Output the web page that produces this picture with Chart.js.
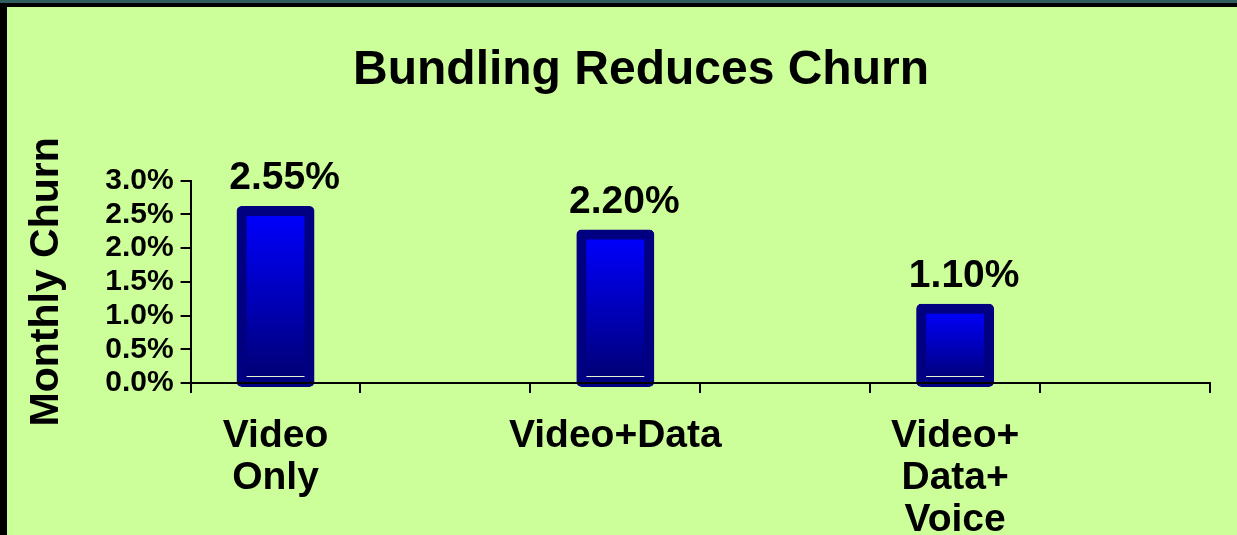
<!DOCTYPE html>
<html>
<head>
<meta charset="utf-8">
<script src="https://cdn.jsdelivr.net/npm/chart.js@4.4.0/dist/chart.umd.min.js"></script>
<style>
    html, body { margin: 0; padding: 0; overflow: hidden; }
    #frame {
        position: absolute; left: 0; top: 0;
        width: 1237px; height: 535px;
        box-sizing: border-box;
        border-top: 3px solid #2f5e5e;
        background: #000;
    }
    #panel {
        position: absolute; left: 7px; top: 4px; right: 0; bottom: 0;
        background: #ccff99;
    }
    #wrap {
        position: absolute; left: 7px; top: 7px;
        width: 1230px; height: 556px;
    }
</style>
</head>
<body>
<div id="frame"><div id="panel"></div></div>
<div id="wrap"><canvas id="churnChart"></canvas></div>
<script>
// Monthly churn by bundle, empty slots keep the gaps between bars
const categories = [['Video', 'Only'], '', 'Video+Data', '', ['Video+', 'Data+', 'Voice'], ''];
const churnPct = [2.55, null, 2.20, null, 1.10, null];
const yMin = 0;
const yMax = 3.0;
const yStep = 0.5;

const FONT = "'Liberation Sans', Arial, sans-serif";
Chart.defaults.font.family = FONT;
Chart.defaults.color = '#000';

// vertical fill for each bar, bright blue at the top fading to navy
function barGradient(context) {
    const chart = context.chart;
    if (!chart.chartArea || !context.parsed || context.parsed.y == null) return '#0000ff';
    const y = chart.scales.y;
    const top = y.getPixelForValue(context.parsed.y);
    const bottom = y.getPixelForValue(0);
    const g = chart.ctx.createLinearGradient(0, top, 0, bottom);
    g.addColorStop(0, '#0000ff');
    g.addColorStop(0.55, '#0000b4');
    g.addColorStop(1, '#000070');
    return g;
}

// value labels above the bars plus the thin highlight near each bar's foot
const barLabels = {
    id: 'barLabels',
    afterDatasetsDraw(chart) {
        const ctx = chart.ctx;
        const meta = chart.getDatasetMeta(0);
        ctx.save();
        meta.data.forEach((bar, i) => {
            const v = churnPct[i];
            if (v == null) return;
            ctx.strokeStyle = '#e4f0d0';
            ctx.lineWidth = 1;
            ctx.beginPath();
            ctx.moveTo(bar.x - bar.width / 2 + 5, Math.round(bar.base) - 5.5);
            ctx.lineTo(bar.x + bar.width / 2 - 5, Math.round(bar.base) - 5.5);
            ctx.stroke();

            ctx.font = 'bold 39px ' + FONT;
            ctx.fillStyle = '#000';
            ctx.textAlign = 'center';
            ctx.textBaseline = 'alphabetic';
            ctx.fillText(v.toFixed(2) + '%', bar.x + 9, bar.y - 22);
        });
        ctx.restore();
    }
};

const chart = new Chart(document.getElementById('churnChart'), {
    type: 'bar',
    data: {
        labels: categories,
        datasets: [{
            data: churnPct,
            backgroundColor: barGradient,
            borderColor: '#000080',
            borderWidth: 10,
            borderRadius: 5,
            borderSkipped: false,
            inflateAmount: 5,
            barPercentage: 0.4,
            categoryPercentage: 1,
            clip: false
        }]
    },
    options: {
        responsive: true,
        maintainAspectRatio: false,
        animation: false,
        layout: { padding: { left: 65, right: 27, top: 0, bottom: 0 } },
        plugins: {
            legend: { display: false },
            tooltip: { enabled: false },
            title: {
                display: true,
                text: 'Bundling Reduces Churn',
                color: '#000',
                font: { size: 48, weight: 'bold', lineHeight: 1.2 },
                padding: { top: 35, bottom: 81 }
            }
        },
        scales: {
            x: {
                grid: {
                    display: true,
                    drawOnChartArea: false,
                    offset: true,
                    color: '#000',
                    lineWidth: 2,
                    tickLength: 10
                },
                border: { color: '#000', width: 2, z: 1 },
                ticks: {
                    color: '#000',
                    font: { size: 39, weight: 'bold', lineHeight: '42px' },
                    padding: 22,
                    maxRotation: 0,
                    minRotation: 0,
                    autoSkip: false
                }
            },
            y: {
                min: yMin,
                max: yMax,
                grid: {
                    drawOnChartArea: false,
                    color: '#000',
                    lineWidth: 2,
                    tickLength: 10
                },
                border: { color: '#000', width: 2 },
                ticks: {
                    stepSize: yStep,
                    autoSkip: false,
                    color: '#000',
                    padding: 7,
                    font: { size: 30, weight: 'bold' },
                    callback: v => v.toFixed(1) + '%'
                },
                title: {
                    display: true,
                    text: 'Monthly Churn',
                    color: '#000',
                    font: { size: 41, weight: 'bold', lineHeight: 1.2 },
                    padding: { top: -50, bottom: 27 }
                }
            }
        }
    },
    plugins: [barLabels]
});
</script>
</body>
</html>
